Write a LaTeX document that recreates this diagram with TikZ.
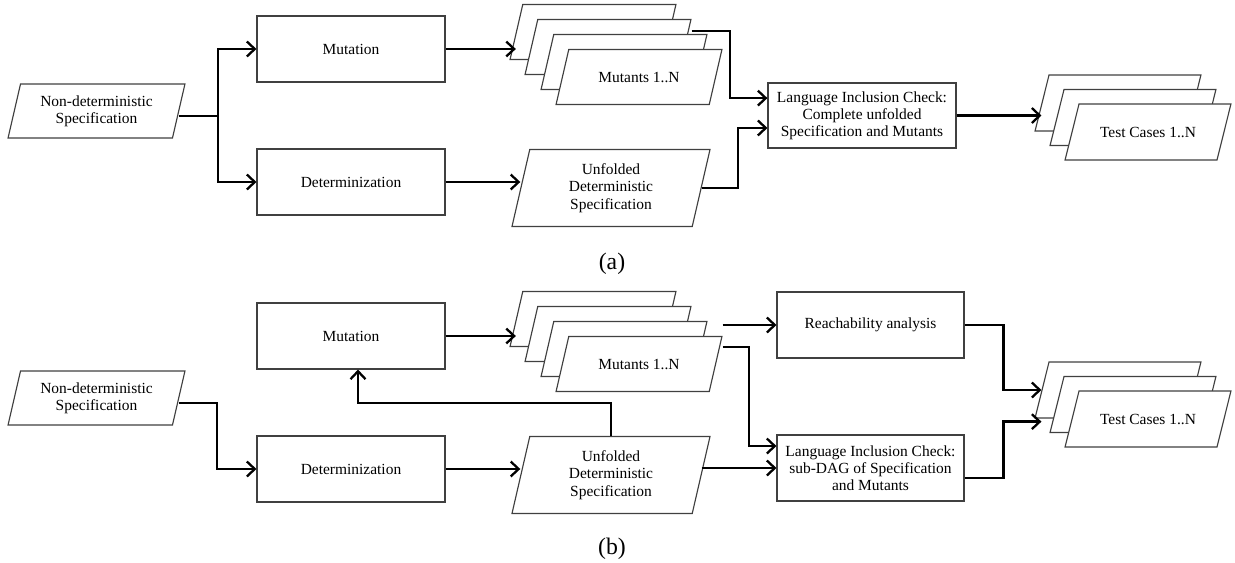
\documentclass[tikz,border=0pt]{standalone}
\usepackage{fontspec}
\setmainfont{Liberation Serif}
\usetikzlibrary{shapes.geometric,arrows.meta}

\begin{document}
\begin{tikzpicture}[x=0.02cm,y=-0.02cm]
	\tikzstyle{every node}=[font=\fontsize{8.8}{9.8}\selectfont,align=center]
	\tikzstyle{box}=[draw=black!75,line width=0.65pt,fill=white,minimum width=3.76cm,minimum height=1.32cm]
	\tikzstyle{card}=[draw=black!75,line width=0.65pt,fill=white,trapezium,trapezium left angle=77,trapezium right angle=103,inner sep=0pt,text width=2.81cm,text height=1.1cm,text depth=0pt]
	\tikzstyle{spec card}=[card,text width=3.04cm,text height=1.08cm]
	\tikzstyle{wide card}=[card,text width=3.25cm,text height=1.54cm]
	\tikzstyle{test card}=[card,trapezium left angle=76,trapezium right angle=104,text width=2.76cm,text height=1.12cm]
	\tikzstyle{arr}=[-{Straight Barb[length=4.5pt,width=8.5pt]},line width=1.3pt]
	\tikzstyle{subcap}=[font=\fontsize{13.5}{16}\selectfont]
	\useasboundingbox (0,0) rectangle (1235,562);

	% (a) complete unfolded specification
	\node[spec card,label={center:{Non-deterministic\\Specification}}] (spec) at (96.5,111) {};
	\node[box] (mut) at (351,49) {Mutation};
	\node[box] (det) at (351,182) {Determinization};
	\node[card] (mutants1) at (593,32) {};
	\node[card] (mutants2) at (608,47) {};
	\node[card] (mutants3) at (624,62) {};
	\node[card,label={center:Mutants 1..N}] (mutants4) at (639,77) {};
	\node[wide card,label={center:{Unfolded\\Deterministic\\Specification}}] (unfold) at (611,188) {};
	\node[box,minimum height=1.3cm] (check) at (862,115.5) {Language Inclusion Check:\\Complete unfolded\\Specification and Mutants};
	\node[test card] (tests1) at (1118,103) {};
	\node[test card] (tests2) at (1133,117.5) {};
	\node[test card,label={center:Test Cases 1..N}] (tests3) at (1148,132) {};
	\node[subcap] (capa) at (612,264) {(a)};

	\coordinate (fork) at (218,116);
	\draw[arr] (spec.east |- fork) -- (fork) |- (mut.west);
	\draw[arr] (fork) |- (det.west);
	\draw[arr] (mut.east) -- (mut.east -| mutants1.west);
	\coordinate (join) at (730,31);
	\draw[arr] (join -| mutants2.top right corner) -- (join) |- ([yshift=9.9pt]check.west);
	\draw[arr] (det.east) -- (det.east -| unfold.west);
	\draw[arr] (unfold.east) -- ++(36,0) |- ([yshift=-7.1pt]check.west);
	\draw[arr] (check.east) -- (check.east -| tests1.west);

	% (b) sub-DAG with reachability
	\node[spec card,label={center:{Non-deterministic\\Specification}}] (spec2) at (96.5,398) {};
	\node[box] (mut2) at (351,336) {Mutation};
	\node[box] (det2) at (351,469) {Determinization};
	\node[card] (mutantsB1) at (593,319) {};
	\node[card] (mutantsB2) at (608,334) {};
	\node[card] (mutantsB3) at (624,349) {};
	\node[card,label={center:Mutants 1..N}] (mutantsB4) at (639,364) {};
	\node[wide card,label={center:{Unfolded\\Deterministic\\Specification}}] (unfold2) at (611,475) {};
	\node[box,minimum width=3.74cm] (reach) at (870.5,325) {Reachability analysis};
	\node[box,minimum width=3.74cm] (check2) at (870.5,468) {Language Inclusion Check:\\sub-DAG of Specification\\and Mutants};
	\node[test card] (testsB1) at (1118,390) {};
	\node[test card] (testsB2) at (1133,404.5) {};
	\node[test card,label={center:Test Cases 1..N}] (testsB3) at (1148,419) {};
	\node[subcap] (capb) at (612,549) {(b)};

	\coordinate (fork2) at (217,403);
	\draw[arr] (spec2.east |- fork2) -- (fork2) |- (det2.west);
	\draw[arr] (mut2.east) -- (mut2.east -| mutantsB1.west);
	\draw[arr] (det2.east) -- (det2.east -| unfold2.west);
	\coordinate (back) at (358,403);
	\draw[arr] (unfold2.north) |- (back) -- (back |- mut2.south);
	\draw[arr] (reach.west -| mutantsB4.top right corner) -- (reach.west);
	\coordinate (join2) at (749,347);
	\draw[arr] (join2 -| mutantsB4.top right corner) -- (join2) |- ([yshift=12.5pt]check2.west);
	\draw[arr] (check2.west -| unfold2.east) -- (check2.west);
	\draw[arr] (reach.east) -- ++(39,0) |- (testsB1.west);
	\draw[arr] ([yshift=-5.7pt]check2.east) -- ++(39,0) |- ([yshift=-18pt]testsB1.west);
\end{tikzpicture}
\end{document}
